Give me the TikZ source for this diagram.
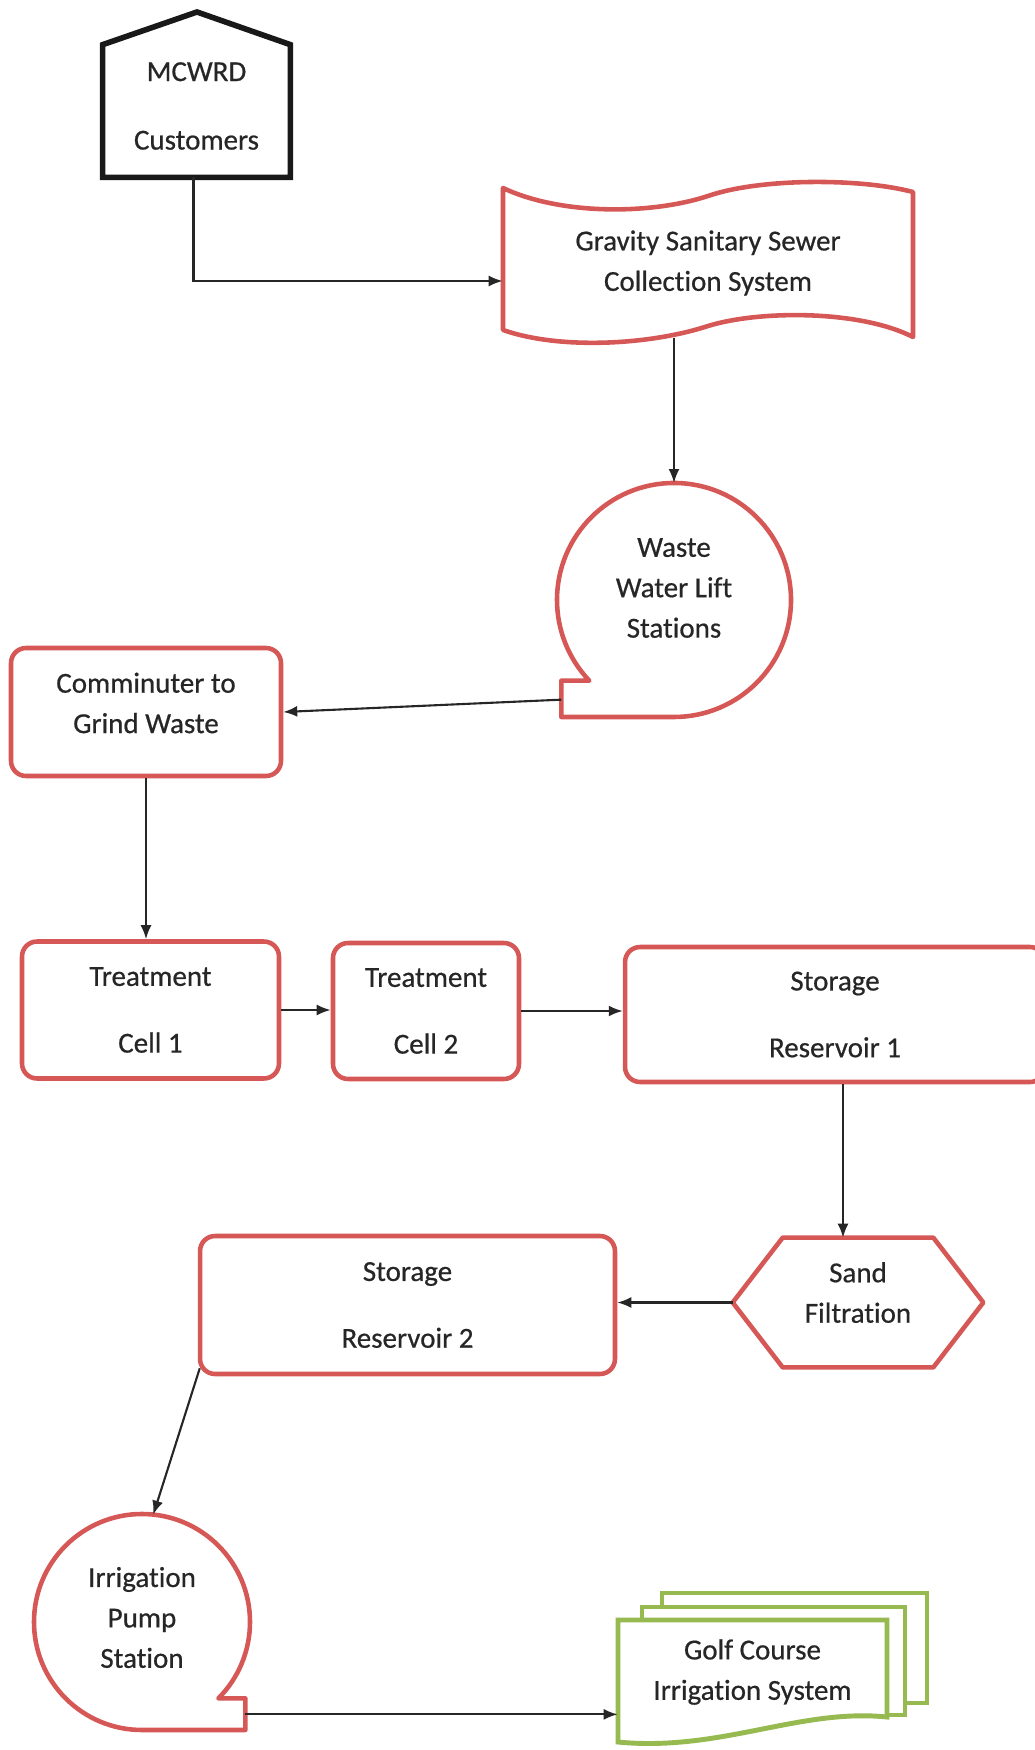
\documentclass[tikz,border=0pt]{standalone}
\usepackage{fontspec}
\setmainfont{Carlito}[Ligatures=NoCommon,FakeBold=0.6]
\usetikzlibrary{arrows.meta,positioning}
\definecolor{boxred}{RGB}{214,88,86}
\definecolor{docgreen}{RGB}{150,185,80}
\tikzset{
  txt/.style={align=center,font=\fontsize{16.5}{23}\selectfont,text=black!85},
  rbox/.style={txt,rectangle,rounded corners=0.3cm,draw=boxred,line width=2.6pt,fill=white,inner sep=0pt},
  rline/.style={draw=boxred,line width=2.6pt,line join=round},
  gline/.style={draw=docgreen,line width=2.8pt,fill=white},
  arr/.style={-{Latex[length=0.28cm,width=0.22cm]},line width=1.2pt,black!85}
}
\begin{document}
\begin{tikzpicture}[x=0.02cm,y=-0.02cm]
  \useasboundingbox (0,0) rectangle (1034,1750);
  % customers (house)
  \node[minimum width=3.74cm,minimum height=2.64cm,inner sep=0pt,
    label={[txt,yshift=0.1cm]center:{MCWRD\\[16pt]Customers}}] (cust) at (196.5,111) {};
  \draw[line width=3.2pt,black!90] (cust.south west) -- (cust.north west) -- (197,12) -- (cust.north east) -- (cust.south east) -- cycle;
  % sewer (tape)
  \node[txt,minimum width=8.2cm,minimum height=3cm] (sewer) at (708,263) {Gravity Sanitary Sewer\\Collection System};
  \draw[rline] (503,188) .. controls (560,215) and (650,215) .. (708,196) .. controls (760,178) and (860,178) .. (913,192)
    -- (913,337) .. controls (860,310) and (760,310) .. (708,326) .. controls (650,345) and (560,350) .. (503,330) -- cycle;
  % lift stations (reel)
  \node[circle,minimum size=4.68cm,inner sep=0pt,outer sep=0pt,
    label={[txt,yshift=0.24cm]center:{Waste\\Water Lift\\Stations}}] (lift) at (674,600) {};
  \draw[rline] (lift.south) arc[start angle=90,end angle=-223.6,radius=117] -- ++(-28,0) -- ++(0,19) coordinate (lifttail) |- (lift.south);
  % treatment line
  \node[rbox,minimum width=5.4cm,minimum height=2.56cm,
    label={[txt,yshift=0.18cm]center:{Comminuter to\\Grind Waste}}] (comm) at (146,712) {};
  \node[rbox,minimum width=5.14cm,minimum height=2.74cm] (cell1) at (150.5,1010) {Treatment\\[15pt]Cell 1};
  \node[rbox,minimum width=3.72cm,minimum height=2.72cm] (cell2) at (426,1011) {Treatment\\[15pt]Cell 2};
  \node[rbox,minimum width=8.4cm,minimum height=2.7cm] (res1) at (835,1014.5) {Storage\\[15pt]Reservoir 1};
  % sand filtration (hexagon)
  \node[minimum width=5cm,minimum height=2.58cm,inner sep=0pt,
    label={[txt,yshift=0.2cm]center:{Sand\\Filtration}}] (sand) at (858,1302.5) {};
  \draw[rline] (sand.west) -- ([xshift=1cm]sand.north west) -- ([xshift=-1cm]sand.north east) -- (sand.east)
    -- ([xshift=-1cm]sand.south east) -- ([xshift=1cm]sand.south west) -- cycle;
  \node[rbox,minimum width=8.3cm,minimum height=2.76cm] (res2) at (407.5,1305) {Storage\\[15pt]Reservoir 2};
  % pump station (reel)
  \node[circle,minimum size=4.32cm,inner sep=0pt,outer sep=0pt,
    label={[txt,yshift=0.09cm]center:{Irrigation\\Pump\\Station}}] (pump) at (142,1622) {};
  \draw[rline] (pump.south) arc[start angle=90,end angle=405,radius=108] -- ++(27,0) -- ++(0,16) coordinate (pumptail) |- (pump.south);
  % golf course (multi document)
  \draw[gline] (662,1593) rectangle (927,1703);
  \draw[gline] (642,1607) rectangle (905,1715);
  \draw[gline] (618,1620) -- (887,1620) -- (887,1717) .. controls (800,1708) and (720,1752) .. (618,1742) -- cycle;
  \node[txt,minimum width=5.38cm] (golf) at (752.5,1672) {Golf Course\\Irrigation System};
  % flow
  \draw[arr] ([xshift=-0.06cm]cust.south) |- ([yshift=-0.36cm]sewer.west);
  \draw[arr] (sewer.south -| lift.north) -- (lift.north);
  \draw[arr] (lifttail) -- (comm.east);
  \draw[arr] (comm.south) -- (comm.south |- cell1.north);
  \draw[arr] (cell1.east) -- (cell1.east -| cell2.west);
  \draw[arr] (cell2.east) -- (cell2.east -| res1.west);
  \draw[arr] ([xshift=0.16cm]res1.south) -- ([xshift=0.16cm]res1.south |- sand.north);
  \draw[arr] (sand.west) -- (sand.west -| res2.east);
  \draw[arr] ([xshift=0.04cm,yshift=0.16cm]res2.south west) -- (pump.84);
  \draw[arr] (pumptail) -- (pumptail -| golf.west);
\end{tikzpicture}
\end{document}
